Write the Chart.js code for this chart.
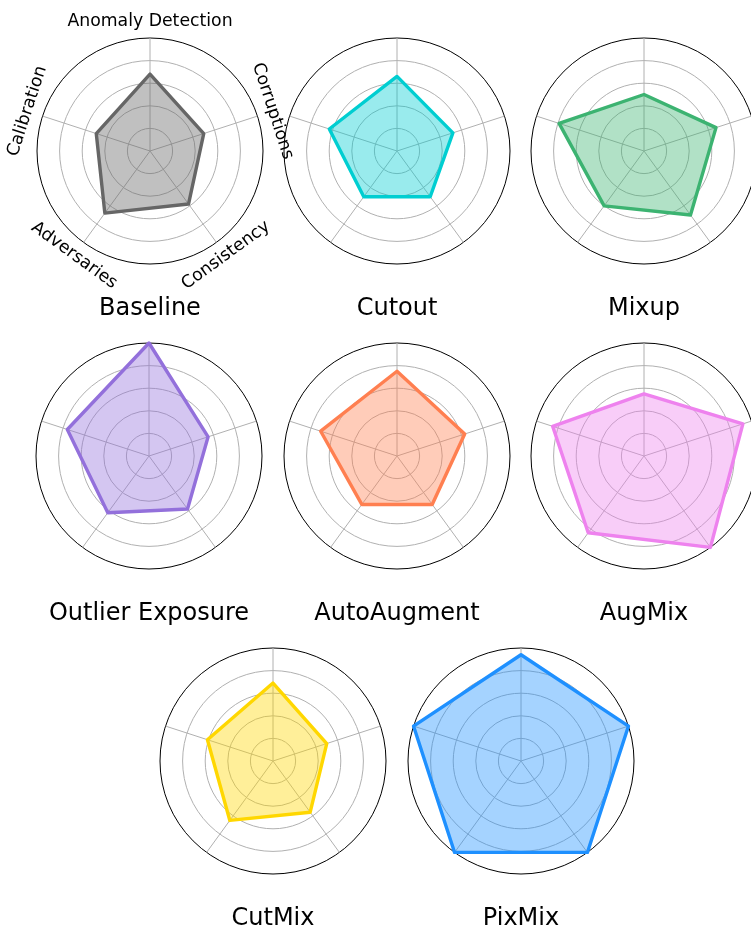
<!DOCTYPE html>
<html>
<head>
<meta charset="utf-8">
<script src="https://cdn.jsdelivr.net/npm/chart.js@4/dist/chart.umd.min.js"></script>
<style>
  html, body { margin: 0; padding: 0; background: #fff; }
  body { width: 751px; height: 928px; position: relative; overflow: hidden; font-family: "DejaVu Sans", sans-serif; }
  canvas { position: absolute; }
  .title { position: absolute; width: 300px; height: 30px; line-height: 30px; text-align: center; font-size: 24px; color: #000; white-space: nowrap; }
</style>
</head>
<body>
<script>
// axes, clockwise from the top
const categories = ['Anomaly Detection', 'Corruptions', 'Consistency', 'Adversaries', 'Calibration'];
const methods = ['Baseline', 'Cutout', 'Mixup', 'Outlier Exposure', 'AutoAugment', 'AugMix', 'CutMix', 'PixMix'];

const baseline = [0.68, 0.50, 0.58, 0.68, 0.50];
const cutout = [0.66, 0.52, 0.50, 0.50, 0.63];
const mixup = [0.50, 0.67, 0.70, 0.60, 0.79];
const outlierExposure = [1.00, 0.55, 0.58, 0.62, 0.76];
const autoAugment = [0.75, 0.63, 0.53, 0.53, 0.71];
const augMix = [0.55, 0.92, 1.00, 0.84, 0.85];
const cutMix = [0.69, 0.50, 0.56, 0.65, 0.61];
const pixMix = [0.94, 1.00, 1.00, 1.00, 1.00];

const seriesValues = [baseline, cutout, mixup, outlierExposure, autoAugment, augMix, cutMix, pixMix];
const radialTicks = [0, 0.2, 0.4, 0.6, 0.8, 1.0];

// colours (line, fill)
const lineColors = ['#666666', '#00ced1', '#3cb371', '#9370db', '#ff7f50', '#ee82ee', '#ffd700', '#1e90ff'];
const fillColors = ['rgba(105,105,105,0.42)', 'rgba(0,206,209,0.4)', 'rgba(60,179,113,0.4)', 'rgba(147,112,219,0.4)',
                    'rgba(255,127,80,0.4)', 'rgba(238,130,238,0.4)', 'rgba(255,215,0,0.4)', 'rgba(30,144,255,0.4)'];

// panel centres on the page
const panelCenters = [[150, 151], [397, 151], [644, 151], [149, 456], [397, 456], [644, 456], [273, 761], [521, 761]];
const SIZE = 300, PAD = 37; // gives a radius of 113px

// rotated axis names, drawn only on the first panel
const axisLabelPlugin = {
    id: 'axisLabels',
    afterDraw(chart) {
        const scale = chart.scales.r;
        const ctx = chart.ctx;
        ctx.save();
        ctx.font = '17.3px "DejaVu Sans"';
        ctx.fillStyle = '#000';
        ctx.textAlign = 'center';
        ctx.textBaseline = 'middle';
        categories.forEach((name, i) => {
            const p = scale.getPointPosition(i, scale.drawingArea + 16);
            let rot = i * 72;
            if (rot > 90 && rot < 270) rot -= 180;
            ctx.save();
            ctx.translate(p.x, p.y);
            ctx.rotate(rot * Math.PI / 180);
            ctx.fillText(name, 0, 0);
            ctx.restore();
        });
        ctx.restore();
    }
};

methods.forEach((name, k) => {
    const [cx, cy] = panelCenters[k];
    const canvas = document.createElement('canvas');
    canvas.width = SIZE;
    canvas.height = SIZE;
    canvas.style.left = (cx - SIZE / 2) + 'px';
    canvas.style.top = (cy - SIZE / 2) + 'px';
    document.body.appendChild(canvas);

    const title = document.createElement('div');
    title.className = 'title';
    title.textContent = name;
    title.style.left = (cx - 150) + 'px';
    title.style.top = (cy + 141) + 'px';
    document.body.appendChild(title);

    new Chart(canvas.getContext('2d'), {
        type: 'radar',
        data: {
            labels: categories,
            datasets: [{
                label: name,
                data: seriesValues[k],
                borderColor: lineColors[k],
                backgroundColor: fillColors[k],
                borderWidth: 3.4,
                borderJoinStyle: 'round',
                fill: true,
                pointRadius: 0,
                tension: 0,
                clip: false
            }]
        },
        options: {
            responsive: false,
            devicePixelRatio: 1,
            animation: false,
            layout: { padding: PAD },
            plugins: {
                legend: { display: false },
                tooltip: { enabled: false }
            },
            scales: {
                r: {
                    min: radialTicks[0],
                    max: radialTicks[radialTicks.length - 1],
                    ticks: { display: false, stepSize: 0.2 },
                    pointLabels: { display: false },
                    grid: {
                        circular: true,
                        lineWidth: 1,
                        color: (c) => (c.tick && c.tick.value >= 0.999) ? '#000000' : '#b0b0b0'
                    },
                    angleLines: { color: '#b0b0b0', lineWidth: 1 }
                }
            }
        },
        plugins: k === 0 ? [axisLabelPlugin] : []
    });
});
</script>
</body>
</html>
